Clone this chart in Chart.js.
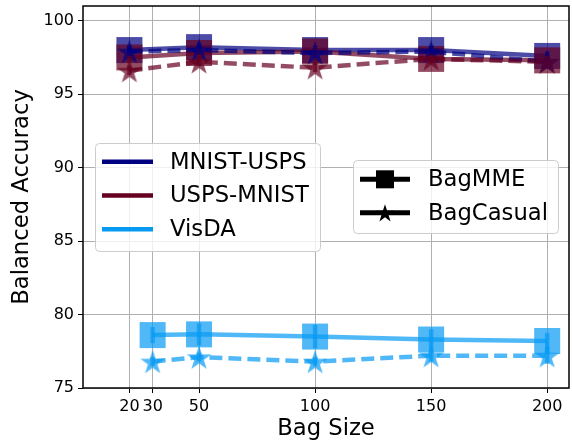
<!DOCTYPE html>
<html>
<head>
<meta charset="utf-8">
<script src="https://cdn.jsdelivr.net/npm/chart.js@4.4.1/dist/chart.umd.min.js"></script>
<style>
  body { margin: 0; background: #fff; }
  canvas { display: block; }
</style>
</head>
<body>
<canvas id="bagChart" width="572" height="444"></canvas>
<script>
// bag sizes used by each task
const digitBagSizes = [20, 50, 100, 150, 200];
const visdaBagSizes = [30, 50, 100, 150, 200];
const xTicks = [20, 30, 50, 100, 150, 200];
const yTicks = [75, 80, 85, 90, 95, 100];

// balanced accuracy (%)
const mnistUspsMME = [98.0, 98.2, 98.0, 98.0, 97.6];
const mnistUspsCasual = [97.9, 98.0, 97.8, 97.9, 97.2];
const uspsMnistMME = [97.5, 97.8, 97.9, 97.4, 97.3];
const uspsMnistCasual = [96.6, 97.2, 96.8, 97.4, 97.2];
const visdaMME = [78.6, 78.65, 78.5, 78.3, 78.2];
const visdaCasual = [76.8, 77.1, 76.8, 77.2, 77.2];

// error bar half-widths
const mnistUspsMMEErr = [0.3, 0.3, 0.3, 0.3, 0.3];
const mnistUspsCasualErr = [0.3, 0.3, 0.3, 0.3, 0.3];
const uspsMnistMMEErr = [0.3, 0.3, 0.3, 0.3, 0.3];
const uspsMnistCasualErr = [0.3, 0.3, 0.3, 0.3, 0.3];
const visdaMMEErr = [0.55, 0.75, 0.8, 0.7, 0.55];
const visdaCasualErr = [0.3, 0.3, 0.3, 0.4, 0.55];

const taskNames = ['MNIST-USPS', 'USPS-MNIST', 'VisDA'];
const methodNames = ['BagMME', 'BagCasual'];

const navy = [0, 0, 128];
const maroon = [101, 0, 33];
const azure = [6, 154, 243];
const alpha = 0.7;

function rgba(c, a) { return `rgba(${c[0]},${c[1]},${c[2]},${a})`; }

function starPath(ctx, cx, cy, r) {
    const inner = r * 0.382;
    ctx.beginPath();
    for (let i = 0; i < 10; i++) {
        const rr = i % 2 === 0 ? r : inner;
        const a = -Math.PI / 2 + i * Math.PI / 5;
        const px = cx + rr * Math.cos(a), py = cy + rr * Math.sin(a);
        if (i === 0) ctx.moveTo(px, py); else ctx.lineTo(px, py);
    }
    ctx.closePath();
}

function makeStar(color, r) {
    const c = document.createElement('canvas');
    c.width = c.height = Math.ceil(r * 2 + 2);
    const g = c.getContext('2d');
    starPath(g, c.width / 2, c.height / 2 + r * 0.1, r);
    g.fillStyle = color;
    g.fill();
    return c;
}

function points(xs, ys) { return xs.map((x, i) => ({ x: x, y: ys[i] })); }

function mmeSet(label, xs, ys, err, col) {
    return {
        label: label, data: points(xs, ys), err: err, col: col,
        borderColor: rgba(col, alpha), borderWidth: 4.5,
        pointStyle: 'rect', pointRadius: 18.4, pointHoverRadius: 18.4,
        pointBackgroundColor: rgba(col, alpha), pointBorderWidth: 0,
        tension: 0
    };
}

function casualSet(label, xs, ys, err, col) {
    return {
        label: label, data: points(xs, ys), err: err, col: col,
        borderColor: rgba(col, alpha), borderWidth: 4.5, borderDash: [13, 6],
        pointStyle: makeStar(rgba(col, alpha), 13), pointRadius: 13,
        pointBorderWidth: 0, tension: 0
    };
}

// draw order bottom -> top: all BagMME, then all BagCasual
const ordered = [
    mmeSet('MNIST-USPS BagMME', digitBagSizes, mnistUspsMME, mnistUspsMMEErr, navy),
    mmeSet('USPS-MNIST BagMME', digitBagSizes, uspsMnistMME, uspsMnistMMEErr, maroon),
    mmeSet('VisDA BagMME', visdaBagSizes, visdaMME, visdaMMEErr, azure),
    casualSet('MNIST-USPS BagCasual', digitBagSizes, mnistUspsCasual, mnistUspsCasualErr, navy),
    casualSet('USPS-MNIST BagCasual', digitBagSizes, uspsMnistCasual, uspsMnistCasualErr, maroon),
    casualSet('VisDA BagCasual', visdaBagSizes, visdaCasual, visdaCasualErr, azure)
];
ordered.forEach((d, i) => { d.order = ordered.length - i; });

const errorBars = {
    id: 'errorBars',
    afterDatasetsDraw(chart) {
        const ctx = chart.ctx;
        const y = chart.scales.y;
        ctx.save();
        chart.data.datasets.forEach((ds, i) => {
            const meta = chart.getDatasetMeta(i);
            ctx.strokeStyle = rgba(ds.col, alpha);
            ctx.lineWidth = 4.5;
            meta.data.forEach((el, j) => {
                const v = ds.data[j].y, e = ds.err[j];
                ctx.beginPath();
                ctx.moveTo(el.x, y.getPixelForValue(v - e));
                ctx.lineTo(el.x, y.getPixelForValue(v + e));
                ctx.stroke();
            });
        });
        ctx.restore();
    }
};

function legendBox(ctx, x, y, w, h) {
    ctx.beginPath();
    ctx.roundRect(x, y, w, h, 4);
    ctx.fillStyle = 'rgba(255,255,255,0.8)';
    ctx.fill();
    ctx.strokeStyle = '#cccccc';
    ctx.lineWidth = 1;
    ctx.stroke();
}

const frameAndLegends = {
    id: 'frameAndLegends',
    afterDraw(chart) {
        const ctx = chart.ctx;
        const a = chart.chartArea;
        ctx.save();
        ctx.strokeStyle = '#000';
        ctx.lineWidth = 1.5;
        ctx.strokeRect(a.left, a.top, a.right - a.left, a.bottom - a.top);

        ctx.font = '22.7px "DejaVu Sans"';
        ctx.textBaseline = 'middle';
        ctx.textAlign = 'left';

        // task legend
        legendBox(ctx, 95.5, 143.5, 225, 108);
        const taskCols = [navy, maroon, azure];
        taskNames.forEach((name, i) => {
            const ly = 161.7 + i * 33.8;
            ctx.strokeStyle = rgba(taskCols[i], 1);
            ctx.lineWidth = 4.5;
            ctx.beginPath();
            ctx.moveTo(102, ly);
            ctx.lineTo(153, ly);
            ctx.stroke();
            ctx.fillStyle = '#000';
            ctx.fillText(name, 170, ly + 1);
        });

        // method legend
        legendBox(ctx, 353.5, 160.5, 205, 73);
        methodNames.forEach((name, i) => {
            const ly = 179.3 + i * 33.4;
            ctx.strokeStyle = '#000';
            ctx.lineWidth = 5;
            ctx.beginPath();
            ctx.moveTo(360, ly);
            ctx.lineTo(410, ly);
            ctx.stroke();
            ctx.fillStyle = '#000';
            if (i === 0) {
                ctx.fillRect(376, ly - 9, 18, 18);
            } else {
                starPath(ctx, 385, ly + 1, 9.5);
                ctx.fill();
            }
            ctx.fillText(name, 428, ly + 1);
        });
        ctx.restore();
    }
};

const tickFont = { family: 'DejaVu Sans', size: 16 };
const titleFont = { family: 'DejaVu Sans', size: 22.7 };

new Chart(document.getElementById('bagChart').getContext('2d'), {
    type: 'line',
    data: { datasets: ordered },
    options: {
        responsive: false,
        animation: false,
        devicePixelRatio: 1,
        layout: { autoPadding: false, padding: { top: 6, right: 3, left: 0, bottom: 0 } },
        plugins: { legend: { display: false }, tooltip: { enabled: false } },
        scales: {
            x: {
                type: 'linear', min: 0, max: 209.4,
                afterBuildTicks: s => { s.ticks = xTicks.map(v => ({ value: v })); },
                afterFit: s => { s.height = 56; s.paddingLeft = 0; s.paddingRight = 0; },
                grid: { color: '#b0b0b0', lineWidth: 1, tickLength: 5, tickColor: '#000' },
                border: { display: false },
                ticks: { color: '#000', font: tickFont, padding: 4, maxRotation: 0, autoSkip: false },
                title: { display: true, text: 'Bag Size', color: '#000', font: titleFont, padding: { top: 0, bottom: 1 } }
            },
            y: {
                type: 'linear', min: 75, max: 101,
                afterBuildTicks: s => { s.ticks = yTicks.map(v => ({ value: v })); },
                afterFit: s => { s.width = 83; s.paddingTop = 0; s.paddingBottom = 0; },
                grid: { color: '#b0b0b0', lineWidth: 1, tickLength: 5, tickColor: '#000' },
                border: { display: false },
                ticks: { color: '#000', font: tickFont, padding: 4 },
                title: { display: true, text: 'Balanced Accuracy', color: '#000', font: titleFont, padding: { top: 8, bottom: 0 } }
            }
        }
    },
    plugins: [errorBars, frameAndLegends]
});
</script>
</body>
</html>
